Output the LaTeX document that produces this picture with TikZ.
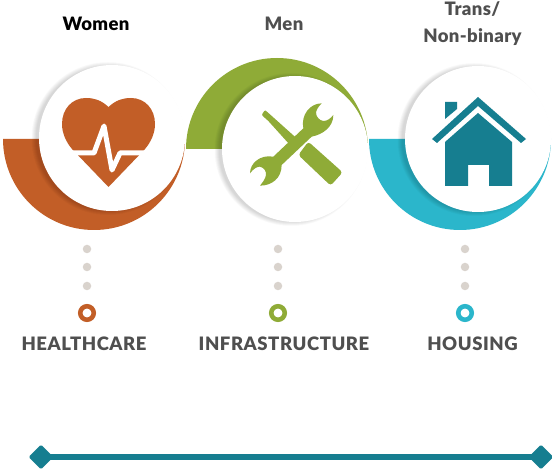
\documentclass[tikz,border=0pt]{standalone}
\usepackage{fontspec}
\setmainfont{Lato}[BoldFont={Lato Black}]
\definecolor{rust}{HTML}{C25E27}
\definecolor{olive}{HTML}{8FAB37}
\definecolor{aqua}{HTML}{2BB6CB}
\definecolor{teal2}{HTML}{167E90}
\definecolor{dotc}{HTML}{D9D3CD}
\definecolor{txt}{HTML}{4F4F4F}
\tikzset{
 pdot/.style={circle,fill=dotc,minimum size=8.5pt,inner sep=0pt},
 ring/.style={circle,draw=#1,fill=white,line width=4.6pt,minimum size=13.5pt,inner sep=0pt},
 lab/.style={font=\fontsize{18.5}{20}\selectfont\bfseries\addfontfeature{LetterSpace=3},text=txt,inner sep=0pt,anchor=center},
 head/.style={font=\fontsize{18.5}{27}\selectfont\bfseries\addfontfeature{LetterSpace=2},text=#1,inner sep=0pt,align=center,anchor=center},
 diam/.style={diamond,fill=teal2,minimum size=25pt,inner sep=0pt,rounded corners=1.5pt}
}
\usetikzlibrary{shapes.geometric}
\newcommand{\softshadow}[3]{% cx, cy, r
  \foreach \k in {0,...,9}{
    \fill[black,opacity=0.014] (#1-4,#2+0.5) circle[radius=#3+\k*0.5-1];
  }
  \fill[white] (#1,#2) circle[radius=#3];
}
\begin{document}
\begin{tikzpicture}[x=1pt,y=-1pt]
\useasboundingbox (0,0) rectangle (552,470);
\fill[white] (0,0) rectangle (552,470);
% arcs
\fill[rust] (3,139) arc[start angle=180,end angle=0,radius=91] -- cycle;
\fill[aqua] (369,139) arc[start angle=180,end angle=0,radius=91] -- cycle;
\fill[olive] (186,149) arc[start angle=180,end angle=360,radius=91] -- cycle;
% white discs
\softshadow{112}{138}{73}
\softshadow{295}{149}{73}
\softshadow{478}{139}{73}
% heart
\fill[rust] (108.5,107) .. controls (101,100) and (94,98) .. (86,98)
  .. controls (72,98) and (62,109) .. (62,124)
  .. controls (62,133) and (66,142) .. (72,149) -- (108.5,187) -- (145,149)
  .. controls (151,142) and (155,133) .. (155,124)
  .. controls (155,109) and (145,98) .. (131,98)
  .. controls (123,98) and (116,100) .. cycle;
\draw[white,line width=5pt,line join=round] (64,153) -- (94,153) -- (104,126) -- (112,170) -- (120,153) -- (150,153);
% tools
\begin{scope}[shift={(240,95)},x=0.3333pt,y=-0.3333pt]
\fill[olive,rounded corners=3pt] (205,140) -- (308,232) -- (272,272) -- (175,180) -- cycle;
\fill[olive,rounded corners=1pt] (65,60) -- (75,45) -- (92,60) -- (170,130) -- (150,150) -- (85,78) -- cycle;
\fill[olive] (190,100) -- (100,185)
  .. controls (60,178) and (30,205) .. (30,235)
  .. controls (40,222) and (50,215) .. (60,215)
  .. controls (72,218) and (80,230) .. (78,240)
  .. controls (76,252) and (68,262) .. (60,272)
  .. controls (95,272) and (125,250) .. (125,210)
  -- (215,125)
  .. controls (250,118) and (280,95) .. (280,60)
  .. controls (272,70) and (262,78) .. (250,78)
  .. controls (238,76) and (228,66) .. (228,52)
  .. controls (230,42) and (238,32) .. (245,25)
  .. controls (210,25) and (182,60) .. (190,100) -- cycle;
\end{scope}
% house
\fill[teal2] (445,102) -- (457,102) -- (457,109) -- (445,119) -- cycle;
\fill[teal2] (478,97) -- (526,139) -- (521,143) -- (478,106) -- (437,143) -- (432,139) -- cycle;
\fill[teal2] (478,113) -- (512,142) -- (512,186) -- (489,186) -- (489,165) -- (468,165) -- (468,186) -- (445,186) -- (445,142) -- cycle;
% dots
\node[pdot] (a1) at (87,249) {};
\node[pdot] (a2) at (87,267) {};
\node[pdot] (a3) at (87,286) {};
\node[pdot] (b1) at (278,249) {};
\node[pdot] (b2) at (278,267) {};
\node[pdot] (b3) at (278,286) {};
\node[pdot] (c1) at (465,249) {};
\node[pdot] (c2) at (465,267) {};
\node[pdot] (c3) at (465,286) {};
\node[ring=rust] (ra) at (87,313) {};
\node[ring=olive] (rb) at (278,313) {};
\node[ring=aqua] (rc) at (465,313) {};
% text
\node[lab] (tA) at (84,344) {HEALTHCARE};
\node[lab] (tB) at (284,344) {INFRASTRUCTURE};
\node[lab] (tC) at (472.5,344) {HOUSING};
\node[head=black] (hA) at (96,24) {Women};
\node[head=txt] (hB) at (284,24) {Men};
\node[head=txt] (hC) at (472.5,24) {Trans/\\Non-binary};
% axis
\node[diam] (dL) at (41,457) {};
\node[diam] (dR) at (541,457) {};
\draw[teal2,line width=6.5pt] (dL.center) -- (dR.center);
\end{tikzpicture}
\end{document}
